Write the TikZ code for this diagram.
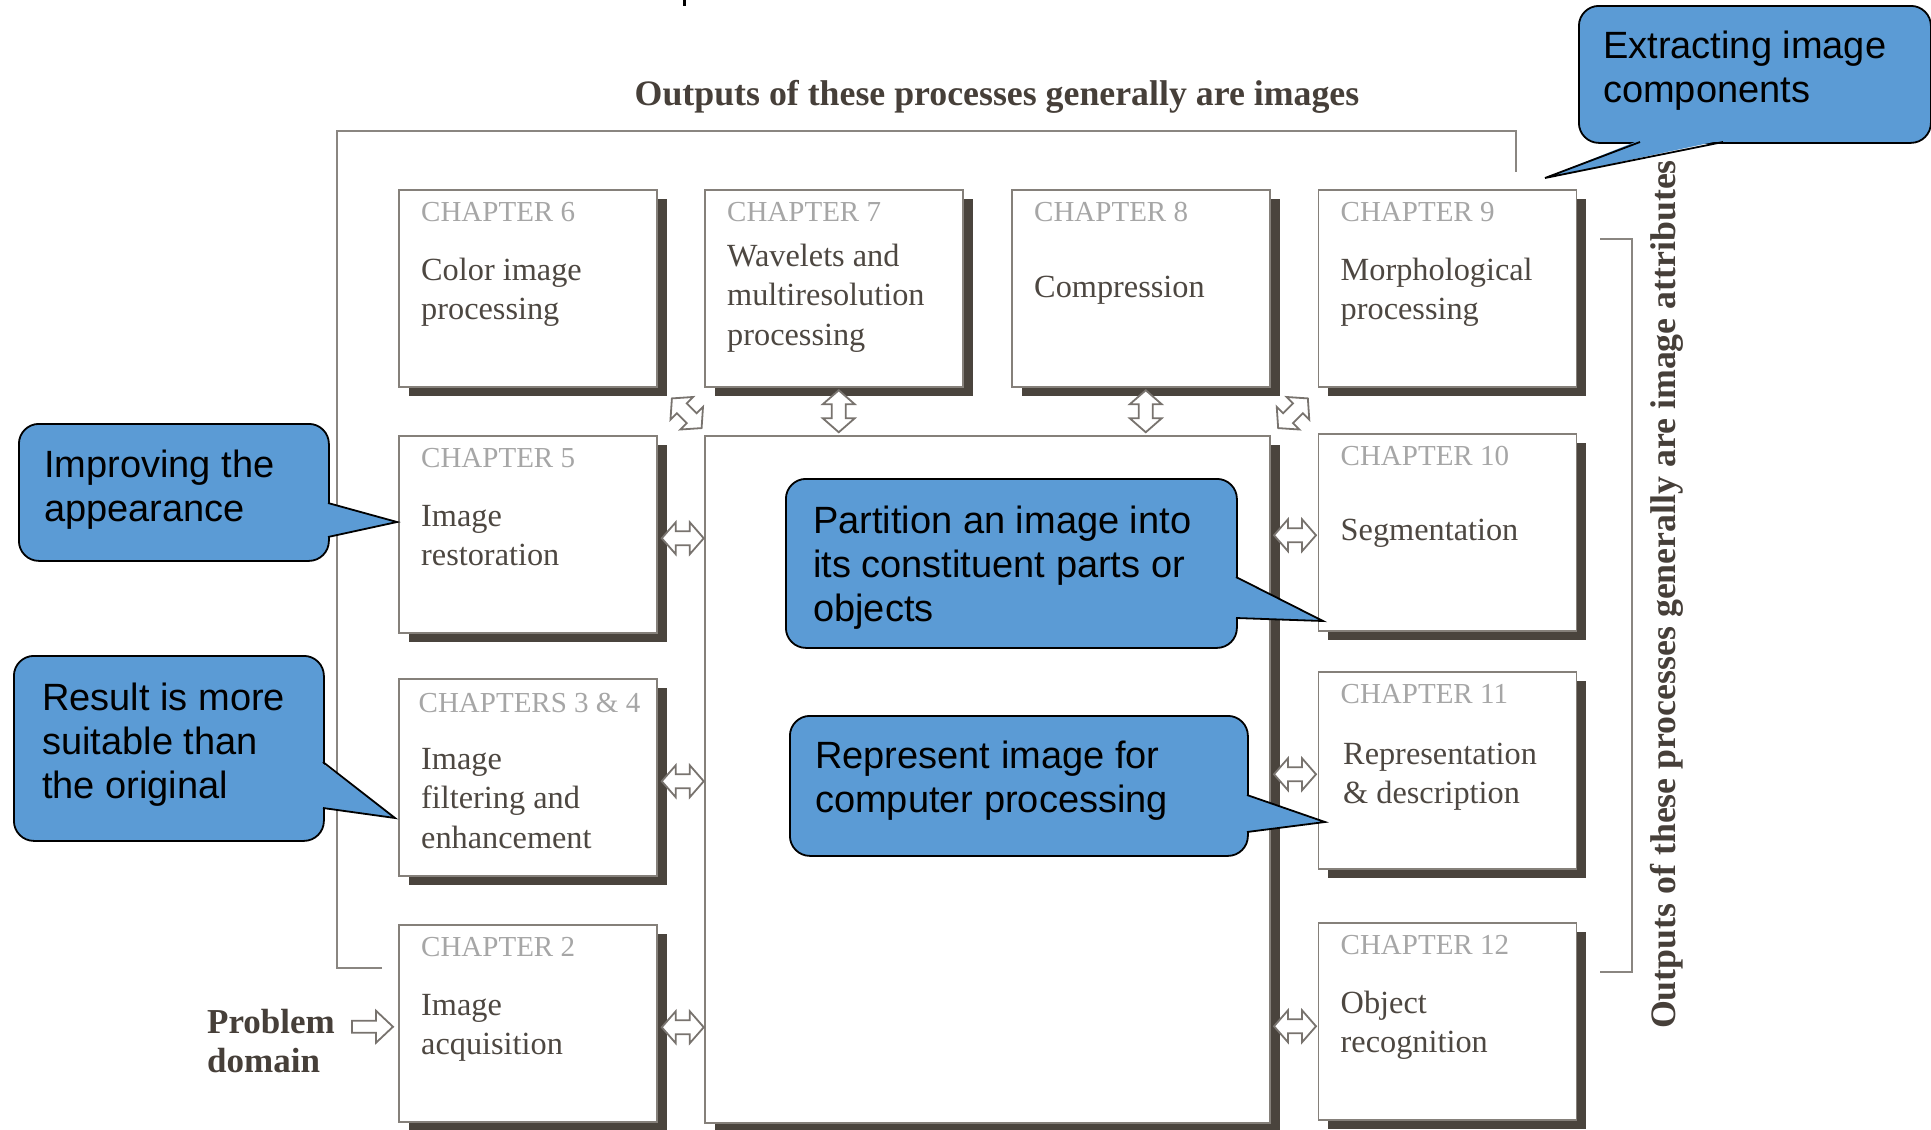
\documentclass[tikz,border=0pt]{standalone}
\usepackage{fontspec}
\setmainfont{Liberation Serif}
\newfontfamily\callfont{Liberation Sans}
\usetikzlibrary{calc,shadows}
\definecolor{boxline}{HTML}{85807A}
\definecolor{shadowc}{HTML}{4A443D}
\definecolor{labelgray}{HTML}{A6A6A6}
\definecolor{bodytext}{HTML}{4D4741}
\definecolor{headtext}{HTML}{463F39}
\definecolor{framegray}{HTML}{8A8681}
\definecolor{arrowgray}{HTML}{78736E}
\definecolor{callblue}{HTML}{5B9BD5}

\begin{document}
\begin{tikzpicture}[x=1pt,y=-1pt,
  chap/.style={draw=boxline, line width=1.5, fill=white, inner sep=0, anchor=north west,
    minimum width=258, minimum height=197,
    drop shadow={shadow xshift=10pt, shadow yshift=-9pt, fill=shadowc, opacity=1}},
  lbl/.style={anchor=base west, inner sep=0, text=labelgray, font=\fontsize{29}{34}\selectfont},
  % multi-line texts are anchored at the baseline of their last line
  body/.style={anchor=base west, inner sep=0, text=bodytext, align=left, font=\fontsize{32.3}{39.5}\selectfont},
  head/.style={inner sep=0, text=headtext, font=\bfseries\fontsize{35.8}{39}\selectfont},
  frame/.style={draw=framegray, line width=2},
  arrowline/.style={draw=arrowgray, line width=1.8, fill=white, line join=miter},
  callbox/.style={draw=black, line width=1.8, fill=callblue, rounded corners=20, inner sep=0, anchor=north west},
  calltext/.style={anchor=base west, inner sep=0, align=left, font=\callfont\fontsize{38}{44}\selectfont},
  dblarrow/.pic={\path[arrowline] (-21,0) -- (-7,16) -- (-7,7) -- (7,7) -- (7,16) -- (21,0)
      -- (7,-16) -- (7,-7) -- (-7,-7) -- (-7,-16) -- cycle;},
  sglarrow/.pic={\path[arrowline] (-20.5,6) -- (3.5,6) -- (3.5,16) -- (20.5,0)
      -- (3.5,-16) -- (3.5,-6) -- (-20.5,-6) -- cycle;}
]
\useasboundingbox (0,0) rectangle (1931,1130);

% stray mark at the top edge
\draw[line width=3] (684,0) -- (684,6);

% brackets grouping the two kinds of output
\draw[frame] (382,968) -- (337,968) -- (337,131) -- (1516,131) -- (1516,172);
\draw[frame] (1600,239) -- (1632,239) -- (1632,972) -- (1600,972);

\node[head, anchor=base] (toptitle) at (997,105) {Outputs of these processes generally are images};
\node[head, anchor=base, rotate=90] (sidetitle) at (1675,594.5) {Outputs of these processes generally are image attributes};

% knowledge base in the middle
\node[chap, minimum width=565, minimum height=687] (hub) at (704,435) {};

% chapter boxes
\node[chap] (c6)  at (398,189) {};
\node[chap] (c7)  at (704,189) {};
\node[chap] (c8)  at (1011,189) {};
\node[chap] (c9)  at (1317.5,189) {};
\node[chap] (c5)  at (398,435) {};
\node[chap] (c10) at (1317.5,433) {};
\node[chap] (c34) at (398,678) {};
\node[chap] (c11) at (1317.5,671) {};
\node[chap] (c2)  at (398,924) {};
\node[chap] (c12) at (1317.5,922) {};

\node[lbl] at ($(c6.north west)+(23,32)$) {CHAPTER 6};
\node[body] at ($(c6.north west)+(23,130.5)$) {Color image\\processing};
\node[lbl] at ($(c7.north west)+(23,32)$) {CHAPTER 7};
\node[body] at ($(c7.north west)+(23,156)$) {Wavelets and\\multiresolution\\processing};
\node[lbl] at ($(c8.north west)+(23,32)$) {CHAPTER 8};
\node[body] at ($(c8.north west)+(23,108)$) {Compression};
\node[lbl] at ($(c9.north west)+(23,32)$) {CHAPTER 9};
\node[body] at ($(c9.north west)+(23,130.5)$) {Morphological\\processing};
\node[lbl] at ($(c5.north west)+(23,32)$) {CHAPTER 5};
\node[body] at ($(c5.north west)+(23,130.5)$) {Image\\restoration};
\node[lbl] at ($(c10.north west)+(23,32)$) {CHAPTER 10};
\node[body] at ($(c10.north west)+(23,107)$) {Segmentation};
\node[lbl] at ($(c34.north west)+(20.5,34)$) {CHAPTERS 3 \& 4};
\node[body] at ($(c34.north west)+(23,170)$) {Image\\filtering and\\enhancement};
\node[lbl] at ($(c11.north west)+(23,32)$) {CHAPTER 11};
\node[body] at ($(c11.north west)+(25.5,132.5)$) {Representation\\\& description};
\node[lbl] at ($(c2.north west)+(23,32)$) {CHAPTER 2};
\node[body] at ($(c2.north west)+(23,130.5)$) {Image\\acquisition};
\node[lbl] at ($(c12.north west)+(23,32)$) {CHAPTER 12};
\node[body] at ($(c12.north west)+(23,130.5)$) {Object\\recognition};

% input
\node[head, anchor=base west, align=left, font=\bfseries\fontsize{35}{39}\selectfont] (prob) at (207,1072) {Problem\\domain};
\pic at ($(c2.west)+(-25.5,3.5)$) {sglarrow};

% two-way links with the knowledge base
\pic[rotate=-45] at ($(c6.south east)!0.5!(hub.north west)+(6,2)$) {dblarrow};
\pic[rotate=90]  at ($(c7.south)!0.5!(c7.south |- hub.north)+(5,0)$) {dblarrow};
\pic[rotate=90]  at ($(c8.south)!0.5!(c8.south |- hub.north)+(5,0)$) {dblarrow};
\pic[rotate=45]  at ($(c9.south west)!0.5!(hub.north east)+(-1,2)$) {dblarrow};
\pic at ($(c5.east)!0.5!(c5.east -| hub.west)+(2,4)$) {dblarrow};
\pic at ($(c34.east)!0.5!(c34.east -| hub.west)+(2,4)$) {dblarrow};
\pic at ($(c2.east)!0.5!(c2.east -| hub.west)+(2,4)$) {dblarrow};
\pic at ($(c10.west)!0.5!(c10.west -| hub.east)+(1,3)$) {dblarrow};
\pic at ($(c11.west)!0.5!(c11.west -| hub.east)+(1,4)$) {dblarrow};
\pic at ($(c12.west)!0.5!(c12.west -| hub.east)+(1,5)$) {dblarrow};

% callouts
\node[callbox, minimum width=352, minimum height=137] (k1) at (1578,5) {};
\coordinate (t1) at (1545,178);
\fill[callblue] (1640,140) -- (t1) -- (1723,140) -- cycle;
\draw[line width=1.8, line join=miter] (1640,142) -- (t1) -- (1723,142);
\node[calltext] at ($(k1.north west)+(25,97)$) {Extracting image\\components};

\node[callbox, minimum width=310, minimum height=137] (k2) at (18,423) {};
\coordinate (t2) at (397,522);
\fill[callblue] (326,503) -- (t2) -- (326,537) -- cycle;
\draw[line width=1.8, line join=miter] (328,503) -- (t2) -- (328,537);
\node[calltext] at ($(k2.north west)+(26,98)$) {Improving the\\appearance};

\node[callbox, minimum width=310, minimum height=185] (k3) at (13,655) {};
\coordinate (t3) at (395,818);
\fill[callblue] (321,762) -- (t3) -- (321,808) -- cycle;
\draw[line width=1.8, line join=miter] (323,762) -- (t3) -- (323,808);
\node[calltext] at ($(k3.north west)+(29,143)$) {Result is more\\suitable than\\the original};

\node[callbox, minimum width=451, minimum height=169] (k4) at (785,478) {};
\coordinate (t4) at (1323,621);
\fill[callblue] (1234,577) -- (t4) -- (1234,618) -- cycle;
\draw[line width=1.8, line join=miter] (1236,577) -- (t4) -- (1236,618);
\node[calltext] at ($(k4.north west)+(28,143)$) {Partition an image into\\its constituent parts or\\objects};

\node[callbox, minimum width=458, minimum height=140] (k5) at (789,715) {};
\coordinate (t5) at (1325,822);
\fill[callblue] (1245,795) -- (t5) -- (1245,832) -- cycle;
\draw[line width=1.8, line join=miter] (1247,795) -- (t5) -- (1247,832);
\node[calltext] at ($(k5.north west)+(26,97)$) {Represent image for\\computer processing};
\end{tikzpicture}
\end{document}
